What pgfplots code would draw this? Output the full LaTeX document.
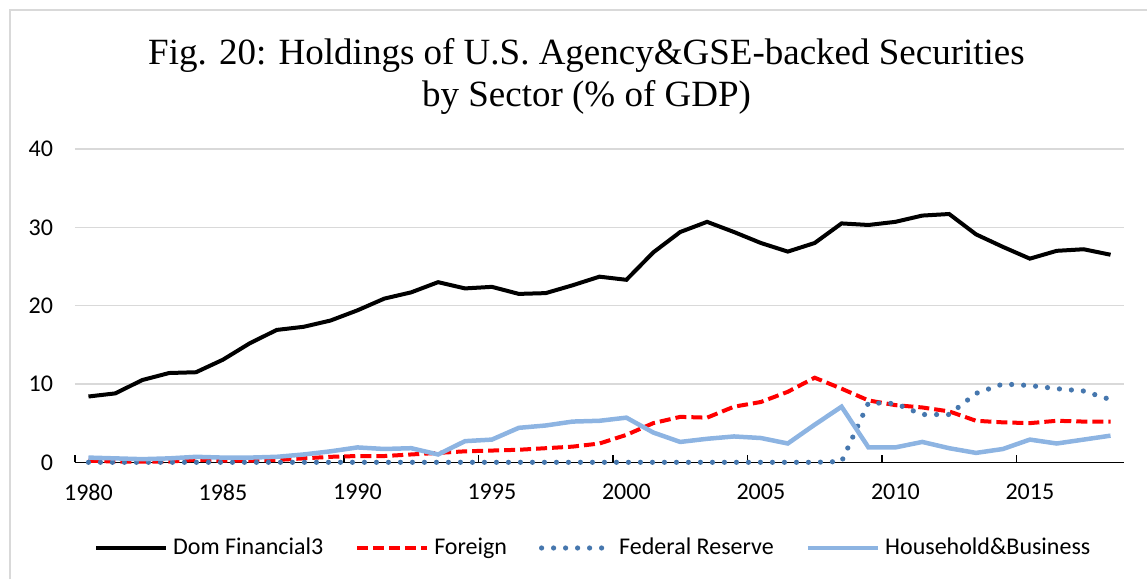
\documentclass[border=0pt]{standalone}
\usepackage{pgfplots}
\pgfplotsset{compat=1.18}
\usepackage{fontspec}
\setmainfont{Carlito}
\newfontfamily\titlefont{Liberation Serif}

\definecolor{fedblue}{HTML}{4677AE}
\definecolor{hhblue}{HTML}{8DB4E2}
\definecolor{gridgray}{HTML}{D9D9D9}

% year, dom financial, foreign, fed, household&business (% of GDP)
\pgfplotstableread{
year dom   for  fed  hh
1980 8.4   0.2  0    0.6
1981 8.8   0.1  0    0.5
1982 10.5  0.1  0    0.4
1983 11.4  0.1  0    0.5
1984 11.5  0.3  0    0.7
1985 13.1  0.2  0    0.6
1986 15.2  0.2  0    0.6
1987 16.9  0.3  0    0.7
1988 17.3  0.5  0    1.0
1989 18.1  0.7  0    1.4
1990 19.4  0.8  0    1.9
1991 20.9  0.8  0    1.7
1992 21.7  1.0  0    1.8
1993 23.0  1.2  0    1.0
1994 22.2  1.4  0    2.7
1995 22.4  1.5  0    2.9
1996 21.5  1.6  0    4.4
1997 21.6  1.8  0    4.7
1998 22.6  2.0  0    5.2
1999 23.7  2.4  0    5.3
2000 23.3  3.5  0    5.7
2001 26.8  5.0  0    3.8
2002 29.4  5.8  0    2.6
2003 30.7  5.7  0    3.0
2004 29.4  7.1  0    3.3
2005 28.0  7.7  0    3.1
2006 26.9  9.0  0    2.4
2007 28.0  10.8 0    4.8
2008 30.5  9.4  0.1  7.1
2009 30.3  7.9  7.6  1.9
2010 30.7  7.3  7.5  1.9
2011 31.5  7.0  6.1  2.6
2012 31.7  6.5  6.1  1.8
2013 29.1  5.3  8.8  1.2
2014 27.5  5.1  10.0 1.7
2015 26.0  5.0  9.8  2.9
2016 27.0  5.3  9.4  2.4
2017 27.2  5.2  9.1  2.9
2018 26.5  5.2  8.0  3.4
}\datatable

\begin{document}
\begin{tikzpicture}
\useasboundingbox (0,0) rectangle (573.5pt,289.5pt);
\draw[gridgray, line width=1pt] (5pt,0) -- (5pt,284.5pt) -- (580pt,284.5pt);

\node[font=\titlefont\fontsize{18.5}{21}\selectfont, anchor=base] at (293.25pt,257pt)
  {Fig. 20: Holdings of U.S. Agency\&GSE-backed Securities};
\node[font=\titlefont\fontsize{18.5}{21}\selectfont, anchor=base] at (293.25pt,236pt)
  {by Sector (\% of GDP)};

\begin{axis}[
  at={(37.5pt,58.35pt)}, anchor=south west,
  scale only axis, width=524.5pt, height=156.65pt,
  xmin=1979.5, xmax=2018.5, ymin=0, ymax=40,
  axis lines*=left,
  y axis line style={draw=none},
  x axis line style={black, line width=0.75pt},
  ytick={0,10,...,40}, ytick style={draw=none},
  xtick={1980,1985,...,2015}, major tick length=0pt,
  minor xtick={1979.5,1984.5,...,2014.5},
  minor tick length=3.5pt, tick align=inside,
  minor x tick style={black, line width=0.75pt},
  ymajorgrids, major grid style={gridgray, line width=0.6pt},
  /pgf/number format/1000 sep={},
  /pgf/number format/assume math mode=true,
  tick label style={font=\fontsize{12}{14}\selectfont},
  yticklabel style={xshift=-7.5pt},
  xticklabel style={yshift=-7.5pt},
  clip=false,
  legend columns=4,
  legend style={at={(0.4955,-0.2735)}, anchor=center, draw=none,
    font=\fontsize{12}{14}\selectfont,
    nodes={inner xsep=2.5pt},
    /tikz/every even column/.append style={column sep=13.5pt}},
  legend image code/.code={\draw[#1] (0pt,0pt) -- (35pt,0pt);},
]
\addplot[black, line width=2pt] table[x=year, y=dom] {\datatable};
\addlegendentry{Dom Financial3}
\addplot[red, line width=2pt, dash pattern=on 5.5pt off 2.5pt] table[x=year, y=for] {\datatable};
\addlegendentry{Foreign}
\addplot[fedblue, line width=2.6pt, line cap=round, dash pattern=on 0pt off 6pt] table[x=year, y=fed] {\datatable};
\addlegendentry{Federal Reserve}
\addplot[hhblue, line width=2.25pt] table[x=year, y=hh] {\datatable};
\addlegendentry{Household\&Business}
\end{axis}
\end{tikzpicture}
\end{document}
